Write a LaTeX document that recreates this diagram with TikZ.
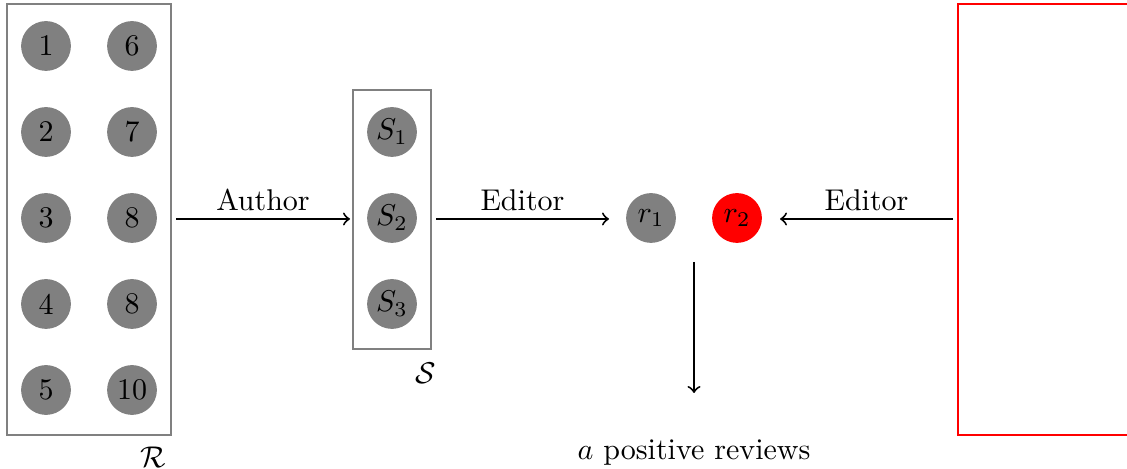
\documentclass[tikz,border=0pt]{standalone}
\begin{document}
\begin{tikzpicture}[x=0.3333pt,y=-0.3333pt,
  dot/.style={circle,fill=gray,minimum size=16.6pt,inner sep=0pt},
  rdot/.style={circle,fill=red,minimum size=16.6pt,inner sep=0pt},
  grp/.style={draw=gray,line width=0.65pt,inner sep=0pt},
  conn/.style={->,line width=0.65pt},
  lbl/.style={above=-0.8pt}]
\useasboundingbox (0,0) rectangle (1127,469);
\clip (0,0) rectangle (1127,469);
% R group
\node[grp,minimum width=54.6pt,minimum height=143.6pt] (R) at (89,219.5) {};
\node[dot] (c1) at (46,46) {1};
\node[dot] (c6) at (132,46) {6};
\node[dot] (c2) at (46,132) {2};
\node[dot] (c7) at (132,132) {7};
\node[dot] (c3) at (46,218) {3};
\node[dot] (c8) at (132,218) {8};
\node[dot] (c4) at (46,304) {4};
\node[dot] (c8b) at (132,304) {8};
\node[dot] (c5) at (46,390) {5};
\node[dot] (c10) at (132,390) {10};
\node (Rl) at (153,457) {$\mathcal{R}$};
% S group
\node[grp,minimum width=26pt,minimum height=86.3pt] (S) at (392,219.5) {};
\node[dot] (s1) at (392,132) {$S_1$};
\node[dot] (s2) at (392,218) {$S_2$};
\node[dot] (s3) at (392,304) {$S_3$};
\node (Sl) at (426,373) {$\mathcal{S}$};
% r nodes
\node[dot] (r1) at (651,218) {$r_1$};
\node[rdot] (r2) at (737,218) {$r_2$};
% red box
\node[draw=red,line width=0.65pt,minimum width=66pt,minimum height=143.6pt,inner sep=0pt,anchor=west] (B) at (957,219.5) {};
% arrows
\coordinate (a1s) at (176,219);
\coordinate (a1e) at (350,219);
\coordinate (a2s) at (436,219);
\coordinate (a2e) at (609,219);
\coordinate (a3s) at (953,219);
\coordinate (a3e) at (780,219);
\draw[conn] (a1s) -- node[lbl] {Author} (a1e);
\draw[conn] (a2s) -- node[lbl] {Editor} (a2e);
\draw[conn] (a3s) -- node[lbl] {Editor} (a3e);
\coordinate (dtop) at (694,262);
\coordinate (dend) at (694,393);
\node (pos) at (694,453) {$a$ positive reviews};
\draw[conn] (dtop) -- (dend);
\end{tikzpicture}
\end{document}
